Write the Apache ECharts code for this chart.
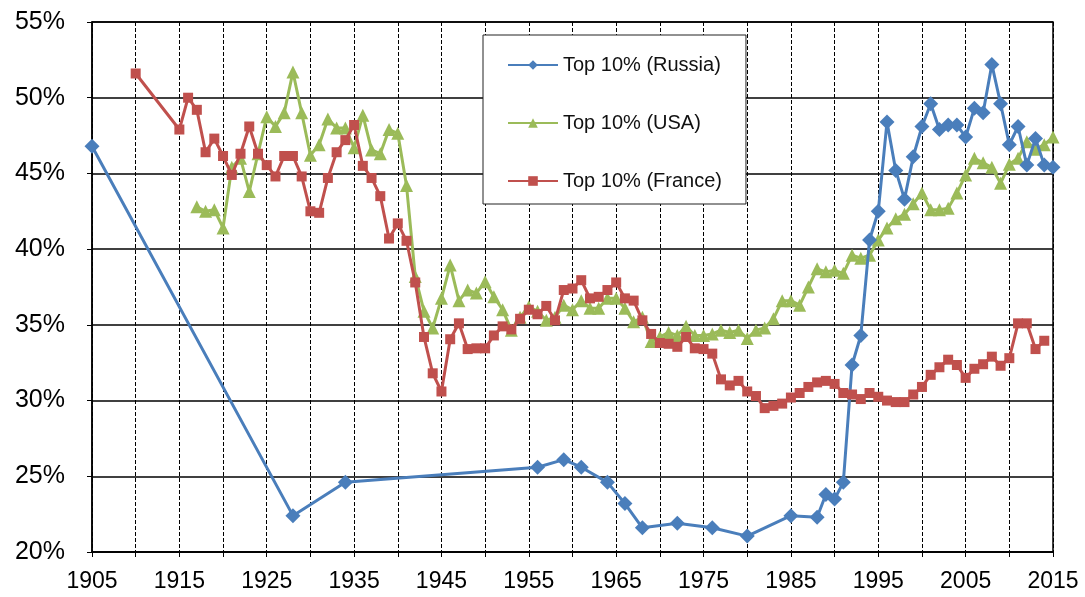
<!DOCTYPE html>
<html>
<head>
<meta charset="utf-8">
<title>Top 10% income share</title>
<script src="https://cdn.jsdelivr.net/npm/echarts@6/dist/echarts.min.js"></script>
<style>
    html, body { margin: 0; padding: 0; background: #fff; }
    #chart { width: 1085px; height: 597px; }
</style>
</head>
<body>
<div id="chart"></div>
<script>
// Russia: irregular years
const russiaYears = [1905, 1928, 1934, 1956, 1959, 1961, 1964, 1966, 1968, 1972, 1976, 1980, 1985, 1988, 1989, 1990,
    1991, 1992, 1993, 1994, 1995, 1996, 1997, 1998, 1999, 2000, 2001, 2002, 2003, 2004, 2005, 2006, 2007, 2008,
    2009, 2010, 2011, 2012, 2013, 2014, 2015]
const russiaValues = [46.8, 22.4, 24.6, 25.6, 26.1, 25.6, 24.6, 23.2, 21.6, 21.9, 21.6, 21.05, 22.4, 22.3, 23.8, 23.5,
    24.6, 32.35, 34.3, 40.6, 42.5, 48.4, 45.2, 43.3, 46.1, 48.1, 49.6, 47.9, 48.2, 48.2, 47.4, 49.3, 49.0, 52.2,
    49.6, 46.9, 48.1, 45.55, 47.3, 45.55, 45.4]

// USA: 1917 - 2015
const usaYears = [1917, 1918, 1919, 1920, 1921, 1922, 1923, 1924, 1925, 1926, 1927, 1928, 1929,
    1930, 1931, 1932, 1933, 1934, 1935, 1936, 1937, 1938, 1939, 1940, 1941, 1942, 1943, 1944, 1945, 1946, 1947, 1948, 1949,
    1950, 1951, 1952, 1953, 1954, 1955, 1956, 1957, 1958, 1959, 1960, 1961, 1962, 1963, 1964, 1965, 1966, 1967, 1968, 1969,
    1970, 1971, 1972, 1973, 1974, 1975, 1976, 1977, 1978, 1979, 1980, 1981, 1982, 1983, 1984, 1985, 1986, 1987, 1988, 1989,
    1990, 1991, 1992, 1993, 1994, 1995, 1996, 1997, 1998, 1999, 2000, 2001, 2002, 2003, 2004, 2005, 2006, 2007, 2008, 2009,
    2010, 2011, 2012, 2013, 2014, 2015]
const usaValues = [42.8, 42.5, 42.6, 41.4, 45.4, 46.0, 43.8, 46.3, 48.75, 48.1, 49.0, 51.7, 49.0,
    46.2, 46.9, 48.6, 48.0, 48.0, 46.7, 48.85, 46.55, 46.3, 47.9, 47.65, 44.2, 38.2, 35.9, 34.8, 36.75, 38.95, 36.6, 37.3, 37.1,
    37.85, 36.85, 36.0, 34.65, 35.5, 36.2, 35.9, 35.3, 35.5, 36.3, 36.0, 36.6, 36.1, 36.1, 36.75, 36.75, 36.1, 35.2, 35.5, 33.9,
    34.2, 34.5, 34.3, 34.9, 34.3, 34.3, 34.4, 34.65, 34.5, 34.65, 34.1, 34.65, 34.8, 35.4, 36.6, 36.6, 36.3, 37.5, 38.7, 38.5,
    38.6, 38.4, 39.6, 39.4, 39.6, 40.6, 41.4, 42.0, 42.3, 43.0, 43.7, 42.6, 42.6, 42.7, 43.7, 44.9, 46.0, 45.7, 45.4, 44.35,
    45.6, 46.0, 47.1, 46.6, 46.9, 47.4]

// France: 1910, then 1915 - 2014
const franceYears = [1910, 1915, 1916, 1917, 1918, 1919, 1920, 1921, 1922, 1923, 1924, 1925, 1926, 1927, 1928, 1929,
    1930, 1931, 1932, 1933, 1934, 1935, 1936, 1937, 1938, 1939, 1940, 1941, 1942, 1943, 1944, 1945, 1946, 1947, 1948, 1949,
    1950, 1951, 1952, 1953, 1954, 1955, 1956, 1957, 1958, 1959, 1960, 1961, 1962, 1963, 1964, 1965, 1966, 1967, 1968, 1969,
    1970, 1971, 1972, 1973, 1974, 1975, 1976, 1977, 1978, 1979, 1980, 1981, 1982, 1983, 1984, 1985, 1986, 1987, 1988, 1989,
    1990, 1991, 1992, 1993, 1994, 1995, 1996, 1997, 1998, 1999, 2000, 2001, 2002, 2003, 2004, 2005, 2006, 2007, 2008, 2009,
    2010, 2011, 2012, 2013, 2014]
const franceValues = [51.6, 47.9, 50.0, 49.2, 46.4, 47.3, 46.15, 44.9, 46.3, 48.1, 46.3, 45.55, 44.8, 46.15, 46.15, 44.8,
    42.5, 42.4, 44.7, 46.4, 47.2, 48.2, 45.5, 44.7, 43.5, 40.7, 41.7, 40.55, 37.8, 34.2, 31.8, 30.6, 34.05, 35.1, 33.4, 33.45,
    33.45, 34.3, 34.9, 34.7, 35.4, 36.0, 35.7, 36.25, 35.3, 37.3, 37.4, 37.95, 36.75, 36.85, 37.3, 37.8, 36.75, 36.6, 35.3, 34.4,
    33.8, 33.75, 33.55, 34.2, 33.45, 33.4, 33.1, 31.4, 31.0, 31.3, 30.6, 30.3, 29.5, 29.65, 29.8, 30.2, 30.5, 30.9, 31.2, 31.3,
    31.1, 30.5, 30.4, 30.1, 30.5, 30.25, 30.0, 29.9, 29.9, 30.4, 30.9, 31.7, 32.2, 32.7, 32.35, 31.5, 32.1, 32.4, 32.9, 32.3,
    32.8, 35.1, 35.1, 33.4, 33.95]

const seriesNames = ['Top 10% (Russia)', 'Top 10% (USA)', 'Top 10% (France)']

function pairs(xs, ys) {
    return xs.map((x, i) => [x, ys[i]])
}

const chart = echarts.init(document.getElementById('chart'))
chart.setOption({
    backgroundColor: '#fff',
    animation: false,
    textStyle: { fontFamily: 'Liberation Sans, Arial, sans-serif', color: '#000' },
    grid: {
        left: 92, right: 32, top: 22, bottom: 45,
        show: true, borderColor: '#000', borderWidth: 1.5
    },
    legend: {
        orient: 'vertical',
        left: 483, top: 35,
        data: seriesNames,
        backgroundColor: '#fff',
        borderColor: '#222',
        borderWidth: 1,
        padding: [20, 24, 13, 24],
        itemGap: 38,
        itemWidth: 50,
        itemHeight: 12,
        textStyle: { fontSize: 20, color: '#111' }
    },
    xAxis: {
        type: 'value',
        min: 1905, max: 2015, interval: 5,
        axisLine: { lineStyle: { color: '#000', width: 1.5 } },
        axisTick: { show: true, length: 5, lineStyle: { color: '#000' } },
        axisLabel: {
            fontSize: 23, color: '#000', margin: 18,
            formatter: v => ((v - 1905) % 10 === 0 ? String(v) : '')
        },
        splitLine: { show: true, lineStyle: { color: '#000', type: [4, 2], width: 1 } }
    },
    yAxis: {
        type: 'value',
        min: 20, max: 55, interval: 5,
        axisLine: { show: true, lineStyle: { color: '#000', width: 1.5 } },
        axisTick: { show: true, length: 5, lineStyle: { color: '#000' } },
        axisLabel: { fontSize: 25, color: '#000', margin: 27, formatter: '{value}%' },
        splitLine: { show: true, lineStyle: { color: '#000', width: 1.5 } }
    },
    series: [
        {
            name: seriesNames[0],
            type: 'line',
            data: pairs(russiaYears, russiaValues),
            symbol: 'diamond',
            symbolSize: 15,
            lineStyle: { color: '#4a7ebb', width: 3 },
            itemStyle: { color: '#4a7ebb' },
            z: 3
        },
        {
            name: seriesNames[1],
            type: 'line',
            data: pairs(usaYears, usaValues),
            symbol: 'triangle',
            symbolSize: 13,
            lineStyle: { color: '#9bbb59', width: 3 },
            itemStyle: { color: '#9bbb59' },
            z: 2
        },
        {
            name: seriesNames[2],
            type: 'line',
            data: pairs(franceYears, franceValues),
            symbol: 'rect',
            symbolSize: 10,
            lineStyle: { color: '#c0504d', width: 3 },
            itemStyle: { color: '#c0504d' },
            z: 4
        }
    ]
})
</script>
</body>
</html>
